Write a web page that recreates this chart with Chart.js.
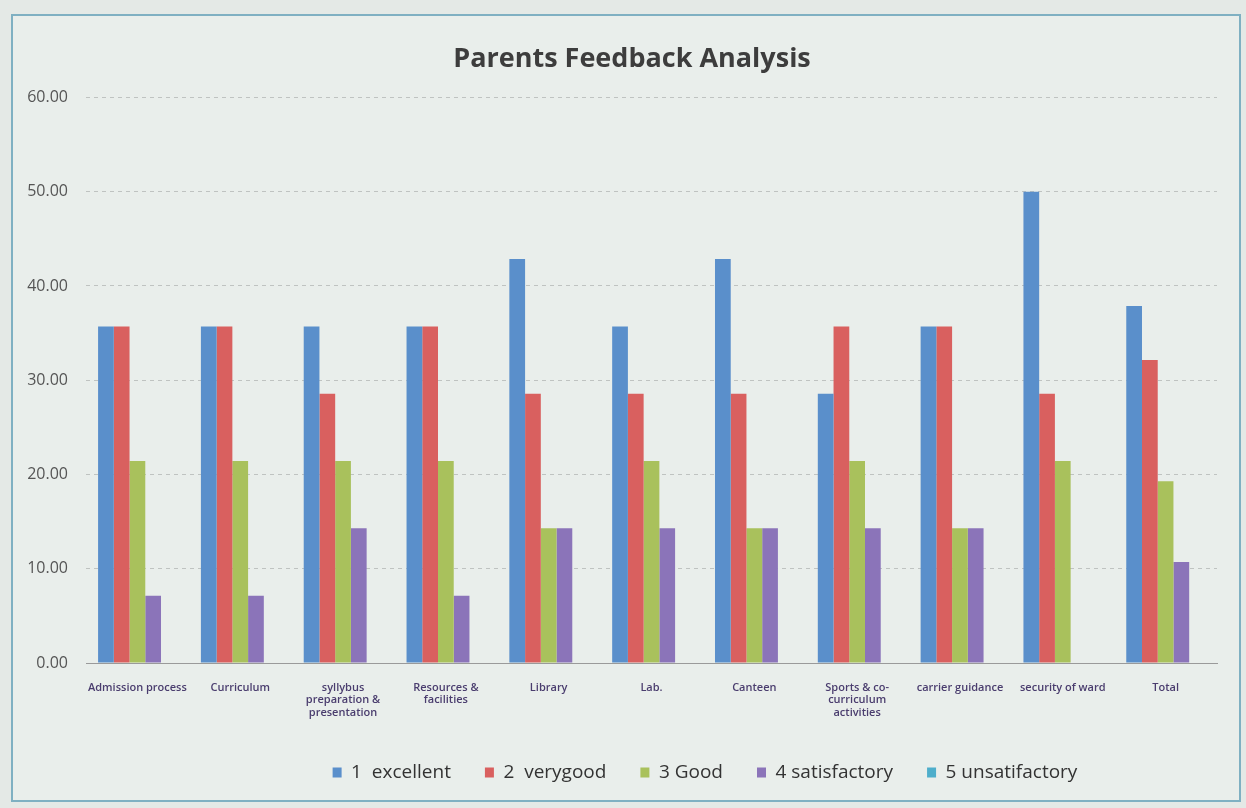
<!DOCTYPE html>
<html>
<head>
<meta charset="utf-8">
<script src="https://cdn.jsdelivr.net/npm/chart.js@4.4.1/dist/chart.umd.min.js"></script>
<style>
  html, body { margin: 0; padding: 0; background: #e4e9e6; }
  #wrap { position: absolute; left: 0; top: 0; width: 1246px; height: 808px; }
  #frame { position: absolute; left: 11px; top: 14px; width: 1226px; height: 784px; border: 2px solid #7fb0c2; background: #e9eeeb; }
  canvas { position: absolute; left: 0; top: 0; }
</style>
</head>
<body>
<div id="wrap">
  <div id="frame"></div>
  <canvas id="c" width="1246" height="808"></canvas>
</div>
<script>
const categories = [
  "Admission process",
  "Curriculum",
  ["syllybus", "preparation &", "presentation"],
  ["Resources &", "facilities"],
  "Library",
  "Lab.",
  "Canteen",
  ["Sports & co-", "curriculum", "activities"],
  "carrier guidance",
  "security of ward",
  "Total"
];
const seriesNames = ["1  excellent", "2  verygood", "3 Good", "4 satisfactory", "5 unsatifactory"];
const excellent      = [35.71, 35.71, 35.71, 35.71, 42.86, 35.71, 42.86, 28.57, 35.71, 50.00, 37.86];
const verygood       = [35.71, 35.71, 28.57, 35.71, 28.57, 28.57, 28.57, 35.71, 35.71, 28.57, 32.14];
const good           = [21.43, 21.43, 21.43, 21.43, 14.29, 21.43, 14.29, 21.43, 14.29, 21.43, 19.29];
const satisfactory   = [7.14, 7.14, 14.29, 7.14, 14.29, 14.29, 14.29, 14.29, 14.29, 0.00, 10.71];
const unsatisfactory = [0, 0, 0, 0, 0, 0, 0, 0, 0, 0, 0];
const yTicks = [0, 10, 20, 30, 40, 50, 60];

const colors = ["#5a8fcb", "#d9605f", "#a9c15c", "#8b74b9", "#4eaecb"];
const seriesValues = [excellent, verygood, good, satisfactory, unsatisfactory];

// shift the legend block to the right, as in the original figure
const legendShift = {
  id: "legendShift",
  afterLayout(chart) {
    const lg = chart.legend;
    if (lg) { lg.left += 73; lg.right += 73; if (lg.adjustHitBoxes) lg.adjustHitBoxes(); }
  }
};

new Chart(document.getElementById("c"), {
  type: "bar",
  data: {
    labels: categories,
    datasets: seriesValues.map((vals, i) => ({
      label: seriesNames[i],
      data: vals,
      backgroundColor: colors[i],
      borderWidth: 0,
      categoryPercentage: 0.765,
      barPercentage: 1.0
    }))
  },
  plugins: [legendShift],
  options: {
    responsive: false,
    animation: false,
    layout: { padding: { top: 43, left: 22, right: 4, bottom: 16 } },
    plugins: {
      title: {
        display: true,
        text: "Parents Feedback Analysis",
        color: "#3d3d3d",
        font: { family: "Open Sans", size: 27, weight: "bold" },
        padding: { top: 0, bottom: 22 }
      },
      legend: {
        position: "bottom",
        labels: {
          color: "#333",
          font: { family: "Open Sans", size: 19 },
          boxWidth: 9,
          boxHeight: 10,
          padding: 34
        }
      },
      tooltip: { enabled: false }
    },
    scales: {
      x: {
        grid: { display: false },
        border: { display: true, color: "#9a9a9a", width: 1 },
        ticks: {
          autoSkip: false,
          maxRotation: 0,
          minRotation: 0,
          color: "#4a3d6e",
          padding: 10,
          font: { family: "Open Sans", size: 11, weight: "600", lineHeight: 1.15 }
        }
      },
      y: {
        min: 0,
        max: 60,
        afterBuildTicks: (axis) => { axis.ticks = yTicks.map(v => ({ value: v })); },
        afterFit: (axis) => { axis.width = 64; },
        grid: { color: "#bfc3c1", lineWidth: 1, drawTicks: false },
        border: { display: false, dash: [4, 4] },
        ticks: {
          color: "#555",
          padding: 18,
          font: { family: "Open Sans", size: 16 },
          callback: (v) => Number(v).toFixed(2)
        }
      },
      yRight: {
        position: "right",
        display: true,
        afterFit: (axis) => { axis.width = 25; },
        grid: { display: false, drawOnChartArea: false },
        border: { display: false },
        ticks: { display: false }
      }
    }
  }
});
</script>
</body>
</html>
